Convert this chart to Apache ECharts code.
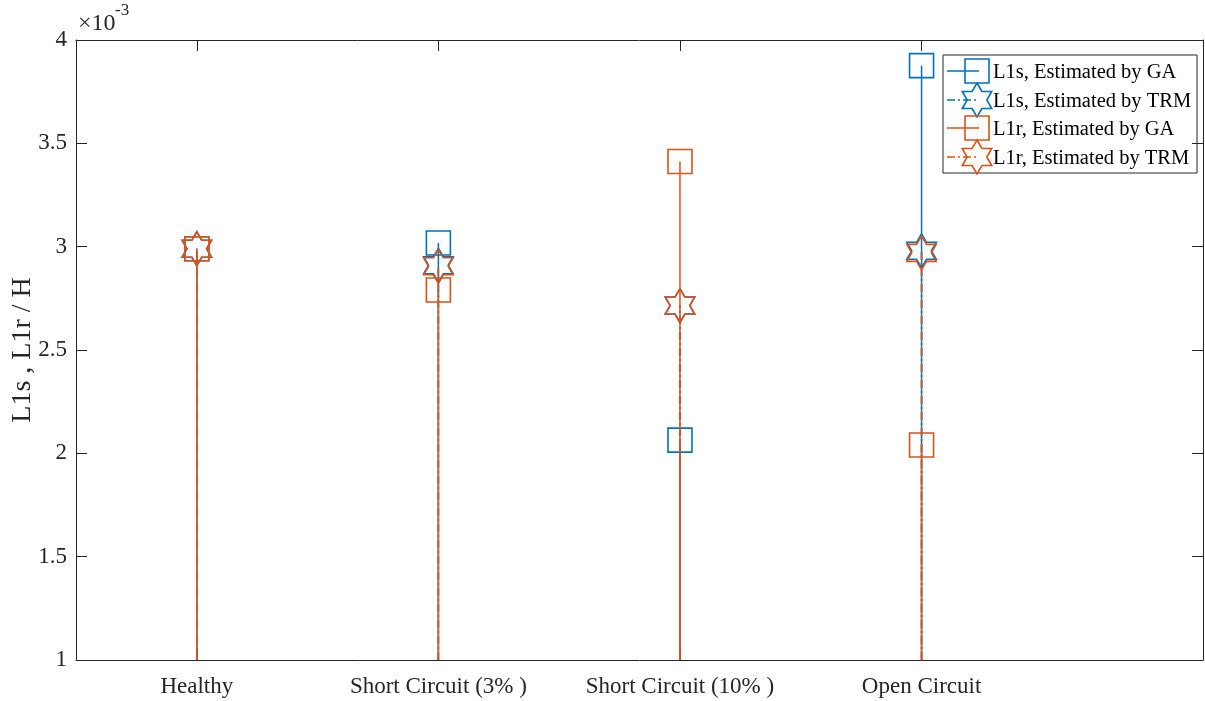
<!DOCTYPE html>
<html>
<head>
<meta charset="utf-8">
<script src="https://cdn.jsdelivr.net/npm/echarts@6/dist/echarts.min.js"></script>
<style>
  html, body { margin: 0; padding: 0; background: #fff; }
  #chart { width: 1205px; height: 701px; }
</style>
</head>
<body>
<div id="chart"></div>
<script>
// Fault cases along the x axis (placed at x = 1..4)
const categories = ['Healthy', 'Short Circuit (3% )', 'Short Circuit (10% )', 'Open Circuit'];
const xPositions = [1, 2, 3, 4];

// Estimated inductances (H)
const l1sGA  = [2.99e-3, 3.018e-3, 2.064e-3, 3.876e-3];
const l1sTRM = [2.99e-3, 2.91e-3, 2.715e-3, 2.98e-3];
const l1rGA  = [2.99e-3, 2.79e-3, 3.412e-3, 2.04e-3];
const l1rTRM = [2.99e-3, 2.905e-3, 2.715e-3, 2.97e-3];

const seriesNames = [
  'L1s, Estimated by GA',
  'L1s, Estimated by TRM',
  'L1r, Estimated by GA',
  'L1r, Estimated by TRM'
];

// Y axis ticks
const yTicks = [1e-3, 1.5e-3, 2e-3, 2.5e-3, 3e-3, 3.5e-3, 4e-3];

const Y_MIN = 1e-3, Y_MAX = 4e-3;
const BLUE = '#0072BD', ORANGE = '#D95319';
const AXIS = '#262626';
const FONT = '"Liberation Serif", "Times New Roman", serif';
const DASH_DOT = [8, 3, 2, 3];

// Hollow marker shapes: square or six-pointed star
function markerEl(kind, cx, cy, color) {
  if (kind === 'square') {
    const s = 24;
    return {
      type: 'rect',
      shape: { x: cx - s / 2, y: cy - s / 2, width: s, height: s },
      style: { fill: 'none', stroke: color, lineWidth: 1.6 }
    };
  }
  const R = 17, r = R / Math.sqrt(3), pts = [];
  for (let k = 0; k < 12; k++) {
    const a = (-90 + k * 30) * Math.PI / 180;
    const rad = k % 2 === 0 ? R : r;
    pts.push([cx + rad * Math.cos(a), cy + rad * Math.sin(a)]);
  }
  return {
    type: 'polygon',
    shape: { points: pts },
    style: { fill: 'none', stroke: color, lineWidth: 1.6 }
  };
}

// Stem: vertical line from the bottom of the axes to the value, with a marker on top
function stemRenderer(kind, dash) {
  return function (params, api) {
    const x = api.value(0), y = api.value(1);
    const top = api.coord([x, y]);
    const bot = api.coord([x, Y_MIN]);
    const color = api.visual('color');
    return {
      type: 'group',
      children: [
        {
          type: 'line',
          shape: { x1: top[0], y1: bot[1], x2: top[0], y2: top[1] },
          style: { stroke: color, lineWidth: 1.5, lineDash: dash }
        },
        markerEl(kind, top[0], top[1], color)
      ]
    };
  };
}

function pairs(values) {
  return xPositions.map((x, i) => [x, values[i]]);
}

const seriesDefs = [
  { name: seriesNames[0], data: l1sGA,  color: BLUE,   kind: 'square', dash: null },
  { name: seriesNames[1], data: l1sTRM, color: BLUE,   kind: 'star',   dash: DASH_DOT },
  { name: seriesNames[2], data: l1rGA,  color: ORANGE, kind: 'square', dash: null },
  { name: seriesNames[3], data: l1rTRM, color: ORANGE, kind: 'star',   dash: DASH_DOT }
];

// Legend box drawn with graphic elements (line + marker + label per entry)
const legendLeft = 943, legendTop = 55, legendW = 254, legendH = 118;
const rowY = [71, 100, 128, 157];
const legendChildren = [{
  type: 'rect',
  shape: { x: legendLeft, y: legendTop, width: legendW, height: legendH },
  style: { fill: '#fff', stroke: AXIS, lineWidth: 1 }
}];
seriesDefs.forEach((s, i) => {
  const cy = rowY[i];
  legendChildren.push({
    type: 'line',
    shape: { x1: 947, y1: cy, x2: 979, y2: cy },
    style: { stroke: s.color, lineWidth: 1.5, lineDash: s.dash }
  });
  legendChildren.push(markerEl(s.kind, 977, cy, s.color));
  legendChildren.push({
    type: 'text',
    style: {
      text: s.name, x: 993, y: cy + 2, fill: '#000',
      font: '20.5px ' + FONT, verticalAlign: 'middle', align: 'left'
    }
  });
});

const chart = echarts.init(document.getElementById('chart'), null, { renderer: 'canvas' });

const tickLen = 11;

chart.setOption({
  animation: false,
  backgroundColor: '#fff',
  grid: {
    left: 76, right: 2, top: 40, bottom: 41,
    containLabel: false, outerBoundsMode: 'none'
  },
  xAxis: [{
    type: 'value', min: 0.5, max: 5.165, position: 'bottom',
    axisLine: { show: true, onZero: false, lineStyle: { color: AXIS, width: 1 } },
    axisTick: { show: true, inside: true, length: tickLen, customValues: xPositions, lineStyle: { color: AXIS } },
    axisLabel: {
      show: true, customValues: xPositions, margin: 15,
      formatter: v => categories[Math.round(v) - 1] || '',
      fontFamily: FONT, fontSize: 23, color: AXIS
    },
    splitLine: { show: false }
  }, {
    type: 'value', min: 0.5, max: 5.165, position: 'top',
    axisLine: { show: true, onZero: false, lineStyle: { color: AXIS, width: 1 } },
    axisTick: { show: true, inside: true, length: tickLen, customValues: xPositions, lineStyle: { color: AXIS } },
    axisLabel: { show: false },
    splitLine: { show: false }
  }],
  yAxis: [{
    type: 'value', min: Y_MIN, max: Y_MAX, position: 'left',
    name: 'L1s , L1r / H', nameLocation: 'middle', nameGap: 39, nameRotate: 90,
    nameMoveOverlap: false,
    nameTextStyle: { fontFamily: FONT, fontSize: 28, color: AXIS },
    axisLine: { show: true, onZero: false, lineStyle: { color: AXIS, width: 1 } },
    axisTick: { show: true, inside: true, length: tickLen, customValues: yTicks, lineStyle: { color: AXIS } },
    axisLabel: {
      show: true, customValues: yTicks, margin: 9,
      formatter: v => String(Math.round(v * 10000) / 10),
      fontFamily: FONT, fontSize: 23, color: AXIS
    },
    splitLine: { show: false }
  }, {
    type: 'value', min: Y_MIN, max: Y_MAX, position: 'right',
    axisLine: { show: true, onZero: false, lineStyle: { color: AXIS, width: 1 } },
    axisTick: { show: true, inside: true, length: tickLen, customValues: yTicks, lineStyle: { color: AXIS } },
    axisLabel: { show: false },
    splitLine: { show: false }
  }],
  series: seriesDefs.map(s => ({
    type: 'custom',
    name: s.name,
    xAxisIndex: 0, yAxisIndex: 0,
    itemStyle: { color: s.color },
    renderItem: stemRenderer(s.kind, s.dash),
    data: pairs(s.data),
    z: 2
  })),
  graphic: [
    {
      type: 'text', left: 78, top: 12, z: 10,
      style: { text: '×10', font: '24px ' + FONT, fill: AXIS }
    },
    {
      type: 'text', left: 115, top: 2, z: 10,
      style: { text: '-3', font: '17px ' + FONT, fill: AXIS }
    },
    { type: 'group', z: 20, children: legendChildren }
  ]
});
</script>
</body>
</html>
